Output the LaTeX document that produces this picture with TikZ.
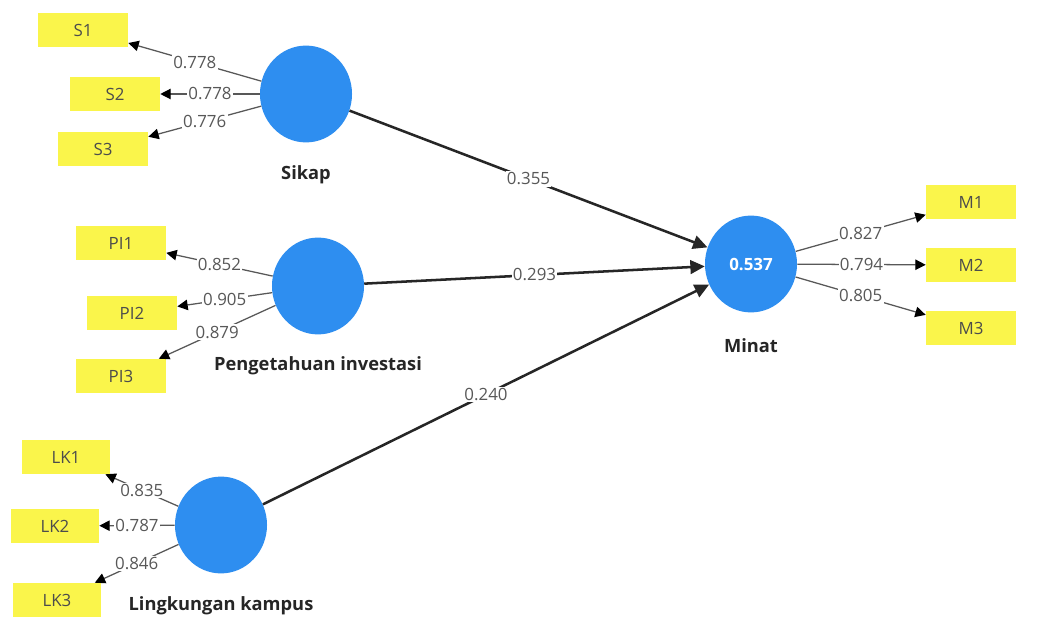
\documentclass[tikz,border=0pt]{standalone}
\usepackage{fontspec}
\setmainfont{Open Sans}
\usetikzlibrary{arrows.meta,shapes.geometric}
\definecolor{lvblue}{RGB}{46,142,240}
\definecolor{mvyellow}{RGB}{250,245,75}
\definecolor{loadgray}{RGB}{88,88,88}
\tikzset{
  ind/.style={rectangle,fill=mvyellow,text=black!70,minimum width=2.25cm,minimum height=0.85cm,font=\fontsize{12}{14}\selectfont},
  lv/.style={ellipse,fill=lvblue,minimum width=2.3cm,minimum height=2.42cm,text=white,font=\bfseries\fontsize{12}{14}\selectfont},
  lvname/.style={font=\bfseries\fontsize{13}{15}\selectfont,text=black!85},
  loading/.style={-{Triangle[length=2.6mm,width=2.6mm,color=black]},draw=loadgray,line width=0.9pt},
  structpath/.style={-{Triangle[length=3.6mm,width=3.4mm]},draw=black!85,line width=1.8pt},
  coef/.style={fill=white,inner sep=1pt,text=loadgray,font=\fontsize{12}{14}\selectfont}
}
\begin{document}
\begin{tikzpicture}[x=0.025cm,y=-0.025cm]
\useasboundingbox[fill=white] (0,0) rectangle (1059,643);
% latent variables
\node [lv] (sik) at (306,94) {};
\node [lv] (pi) at (318,286) {};
\node [lv] (lk) at (221,525) {};
\node [lv] (min) at (751,264) {0.537};
\node [lvname] (siklab) at (306,175) {Sikap};
\node [lvname] (pilab) at (318,366) {Pengetahuan investasi};
\node [lvname] (lklab) at (221,606) {Lingkungan kampus};
\node [lvname] (minlab) at (751,346) {Minat};
% indicators
\node [ind] (s1) at (83,30) {S1};
\node [ind] (s2) at (115,94) {S2};
\node [ind] (s3) at (103,149) {S3};
\node [ind] (pi1) at (121,243) {PI1};
\node [ind] (pi2) at (132,313) {PI2};
\node [ind] (pi3) at (121,376) {PI3};
\node [ind,minimum width=2.2cm] (lk1) at (66,457) {LK1};
\node [ind,minimum width=2.2cm] (lk2) at (55,526) {LK2};
\node [ind,minimum width=2.2cm] (lk3) at (57,600) {LK3};
\node [ind] (m1) at (971,202) {M1};
\node [ind] (m2) at (971,265) {M2};
\node [ind] (m3) at (971,328) {M3};
% outer loadings
\draw [loading] (sik) -- node [coef] {0.778} (s1);
\draw [loading] (sik) -- node [coef] {0.778} (s2);
\draw [loading] (sik) -- node [coef] {0.776} (s3);
\draw [loading] (pi) -- node [coef] {0.852} (pi1);
\draw [loading] (pi) -- node [coef] {0.905} (pi2);
\draw [loading] (pi) -- node [coef] {0.879} (pi3);
\draw [loading] (lk) -- node [coef] {0.835} (lk1);
\draw [loading] (lk) -- node [coef] {0.787} (lk2);
\draw [loading] (lk) -- node [coef] {0.846} (lk3);
\draw [loading] (min) -- node [coef] {0.827} (m1);
\draw [loading] (min) -- node [coef] {0.794} (m2);
\draw [loading] (min) -- node [coef] {0.805} (m3);
% path coefficients
\draw [structpath] (sik) -- node [coef] {0.355} (min);
\draw [structpath] (pi) -- node [coef] {0.293} (min);
\draw [structpath] (lk) -- node [coef] {0.240} (min);
\end{tikzpicture}
\end{document}
